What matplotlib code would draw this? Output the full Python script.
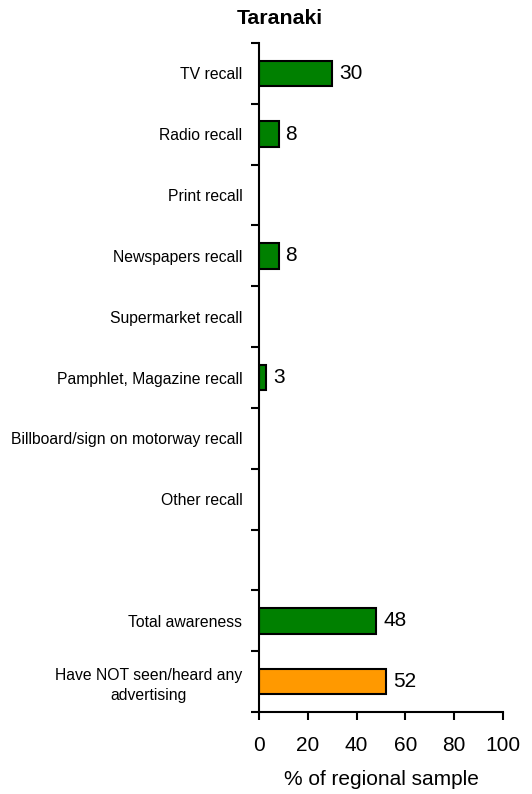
import numpy as np
import matplotlib.pyplot as plt
from matplotlib.ticker import FixedLocator

plt.rcParams['font.family'] = ['Liberation Sans', 'DejaVu Sans']

# Data
categories = ["TV recall", "Radio recall", "Print recall", "Newspapers recall",
              "Supermarket recall", "Pamphlet, Magazine recall",
              "Billboard/sign on motorway recall", "Other recall", "",
              "Total awareness", "Have NOT seen/heard any\nadvertising"]
values = [30, 8, np.nan, 8, np.nan, 3, np.nan, np.nan, np.nan, 48, 52]
bar_colors = ["#008000"] * 10 + ["#FF9900"]

fig = plt.figure(figsize=(5.32, 7.94), dpi=100)
ax = fig.add_axes([0.487, 0.1033, 0.4586, 0.8425])

y = np.arange(len(categories))
for yi, v, c in zip(y, values, bar_colors):
    if np.isnan(v):
        continue
    ax.barh(yi, v, height=0.42, color=c, edgecolor="black", linewidth=1.5)
    ax.annotate(f"{v:.0f}", (v, yi), xytext=(5, 0), textcoords="offset points",
                va="center", ha="left", fontsize=15)

ax.set_ylim(len(categories) - 0.5, -0.5)
ax.set_xlim(0, 100)
ax.set_yticks(y)
ax.set_yticklabels(categories, fontsize=11.3)
for lbl in ax.get_yticklabels():
    lbl.set_multialignment("center")
    lbl.set_linespacing(1.45)
# ticks sit between the categories
ax.yaxis.set_minor_locator(FixedLocator(np.arange(-0.5, len(categories), 1.0)))
ax.tick_params(axis="y", which="major", length=0, pad=12)
ax.tick_params(axis="y", which="minor", length=6, width=1.5)

ax.set_xticks([0, 20, 40, 60, 80, 100])
ax.tick_params(axis="x", length=6, width=1.5, labelsize=15, pad=11)
ax.set_xlabel("% of regional sample", fontsize=15, labelpad=11)

for s in ["top", "right"]:
    ax.spines[s].set_visible(False)
for s in ["left", "bottom"]:
    ax.spines[s].set_linewidth(1.5)

fig.text(0.526, 0.977, "Taranaki", fontsize=15.3, fontweight="bold",
         ha="center", va="center")

fig.savefig("out.png", dpi=100)
